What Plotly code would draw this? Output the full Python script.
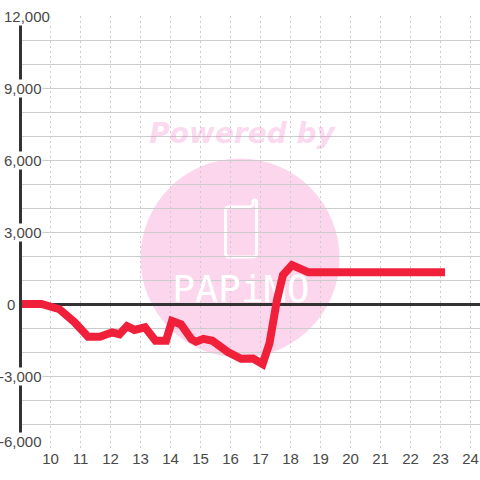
import plotly.graph_objects as go

hours = [8.92, 9.7, 10.3, 10.8, 11.25, 11.65, 12.05, 12.3, 12.55, 12.8, 13.15, 13.5, 13.85, 14.05, 14.35, 14.7, 14.85, 15.1, 15.4, 15.9, 16.35, 16.75, 17.07, 17.3, 17.55, 17.75, 18.05, 18.6, 23.15]
values = [0, 0, -220, -760, -1360, -1360, -1180, -1260, -920, -1080, -970, -1530, -1530, -710, -850, -1470, -1570, -1450, -1530, -1990, -2280, -2270, -2500, -1640, 170, 1210, 1625, 1320, 1320]
y_tick_values = [12000, 9000, 6000, 3000, 0, -3000, -6000]
y_tick_labels = ["12,000", "9,000", "6,000", "3,000", "0", "-3,000", "-6,000"]
y_label_right = [51, 43, 43, 43, 16, 43, 43]
y_label_shift = [0, 0, 0, 0, 0, 0, 7]

W, H = 480, 480
L, R, T, B = 22, 0, 16, 32
RED = "#f0203a"
GRID = "#cccccc"
INK = "#484848"
PINK = "#fcd6ec"
FONT = "Liberation Sans"


def px(x):
    return (x - L) / (W - L - R)


def py(y):
    return (H - B - y) / (H - T - B)


def p(x, y):
    return f"{px(x):.5f},{py(y):.5f}"


# phone outline of the watermark
phone = (
    f"M {p(229, 207)} L {p(250, 207)} L {p(253, 205)} L {p(253, 201)} "
    f"Q {p(255, 199)} {p(256.5, 201)} L {p(256.5, 253)} Q {p(256.5, 257)} {p(253, 257)} "
    f"L {p(229, 257)} Q {p(225.5, 257)} {p(225.5, 253)} L {p(225.5, 211)} Q {p(225.5, 207)} {p(229, 207)} Z"
)

fig = go.Figure()
fig.add_trace(go.Scatter(
    x=[9 + (242 - 20.5) / 30], y=[(304 - 136) / 0.024], mode="text", text=["<b><i>Powered by</i></b>"],
    textfont=dict(family="DejaVu Sans", size=28, color="rgba(244,120,200,0.3)"),
    hoverinfo="skip", showlegend=False,
))
fig.add_trace(go.Scatter(
    x=[9 + (241 - 20.5) / 30], y=[(304 - 292) / 0.024], mode="text", text=["PAPiMO"],
    textfont=dict(family="DejaVu Sans Mono", size=38, color="white"),
    hoverinfo="skip", showlegend=False,
))
fig.add_trace(go.Scatter(
    x=hours, y=values, mode="lines", cliponaxis=False,
    line=dict(color=RED, width=8), hoverinfo="skip", showlegend=False,
))

fig.update_layout(
    width=W, height=H, margin=dict(l=L, r=R, t=T, b=B, pad=0),
    paper_bgcolor="white", plot_bgcolor="white", showlegend=False,
    font=dict(family=FONT, size=15, color=INK),
    xaxis=dict(
        range=[9.05, 24.317], dtick=1, tick0=0, showgrid=True, gridcolor=GRID, griddash="2px,3px", gridwidth=1,
        zeroline=False, showline=False, ticks="", tickfont=dict(size=15, color=INK, family=FONT), layer="below traces",
    ),
    yaxis=dict(
        range=[-6000, 12000], dtick=1000, tick0=0, showgrid=True, gridcolor=GRID, gridwidth=1,
        zeroline=True, zerolinecolor="#333333", zerolinewidth=3,
        showline=True, linecolor="#333333", linewidth=3, ticks="", showticklabels=False, layer="below traces",
    ),
    shapes=[
        dict(type="circle", xref="paper", yref="paper", x0=px(140.5), x1=px(339.5), y0=py(357.5), y1=py(158.5),
             fillcolor=PINK, line_width=0, layer="below"),
        dict(type="path", xref="paper", yref="paper", path=phone, line=dict(color="white", width=3),
             fillcolor="rgba(0,0,0,0)", layer="below"),
    ],
    annotations=[
        dict(xref="paper", yref="y", x=px(r), y=v, text=t, xanchor="right", yanchor="middle", showarrow=False,
             bgcolor="white", borderpad=0, yshift=s, font=dict(family=FONT, size=15, color=INK))
        for v, t, r, s in zip(y_tick_values, y_tick_labels, y_label_right, y_label_shift)
    ],
)
fig.write_html("out.html", config=dict(displayModeBar=False),
               post_script="document.body.style.margin='0';document.documentElement.style.overflow='hidden';window.dispatchEvent(new Event('resize'));")
